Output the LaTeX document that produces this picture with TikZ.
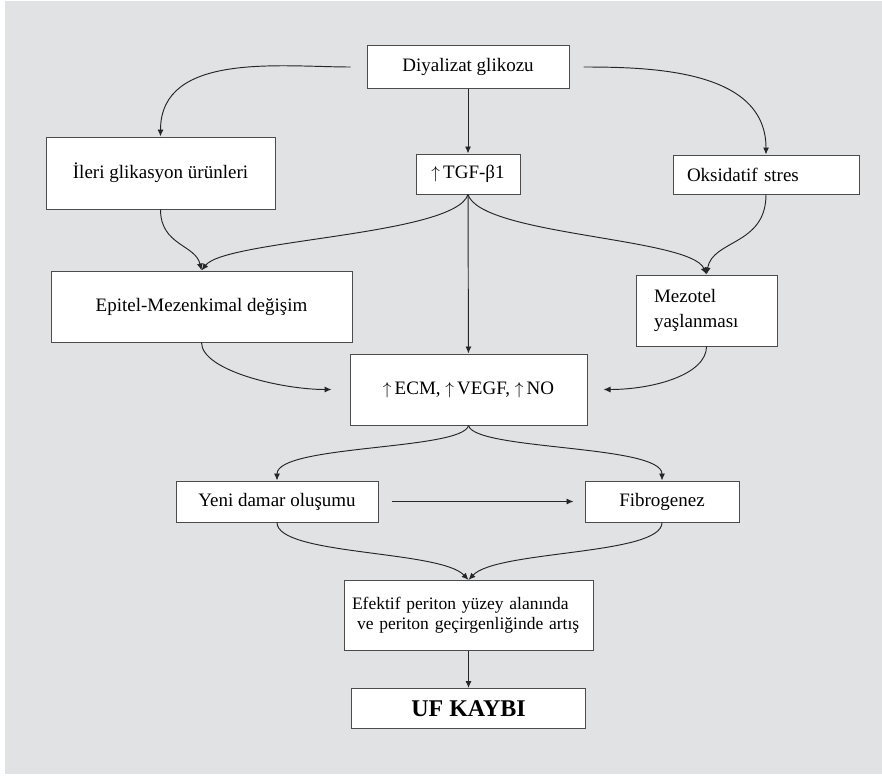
\documentclass[tikz,border=0pt]{standalone}
\usepackage{fontspec}
\setmainfont{Liberation Serif}
\usepackage{tikz}
\usetikzlibrary{arrows.meta}

\definecolor{zemin}{RGB}{225,226,228}
\newcommand{\artis}{$\uparrow$}
\tikzset{
  >={Latex[length=7pt,width=6pt]},
  kutu/.style={draw=black!70, line width=1pt, fill=white, inner sep=0pt,
    font=\fontsize{19}{25}\selectfont},
  ok/.style={->, draw=black!85, line width=0.95pt}
}

\begin{document}
\begin{tikzpicture}[x=1pt,y=-1pt]
    \useasboundingbox (0,0) rectangle (882,776);
    \fill[zemin] (5,1) rectangle (882,774);

    % boxes, at pixel positions of the figure (y goes down)
    \node[kutu, minimum width=202pt, minimum height=42pt] (glikoz) at (468,67) {Diyalizat glikozu};
    \node[kutu, minimum width=229pt, minimum height=72pt] (ileri) at (160.5,173) {İleri glikasyon ürünleri};
    \node[kutu, minimum width=104pt, minimum height=40pt] (tgf) at (468,174) {\artis\,TGF-β1};
    \node[kutu, minimum width=186pt, minimum height=39pt, text width=158pt, align=left] (oksi) at (766,174.5) {Oksidatif stres};
    \node[kutu, minimum width=301pt, minimum height=71pt] (emt) at (201.5,306.5) {Epitel-Mezenkimal değişim};
    \node[kutu, minimum width=141pt, minimum height=71pt, text width=105pt, align=left] (mezotel) at (706.5,310.5) {Mezotel\\yaşlanması};
    \node[kutu, minimum width=237pt, minimum height=71pt] (ecm) at (468.5,389.5) {\artis\,ECM, \artis\,VEGF, \artis\,NO};
    \node[kutu, minimum width=202pt, minimum height=41pt] (yeni) at (277,501.5) {Yeni damar oluşumu};
    \node[kutu, minimum width=154pt, minimum height=41pt] (fibro) at (662,501.5) {Fibrogenez};
    \node[kutu, minimum width=249pt, minimum height=70pt, text width=233pt, align=left,
      font=\fontsize{17.5}{20}\selectfont] (efektif) at (468.5,615.5)
      {Efektif periton yüzey alanında\\\hspace*{5pt}ve periton geçirgenliğinde artış};
    \node[kutu, minimum width=234pt, minimum height=40pt, font=\fontsize{24}{28}\selectfont\bfseries] (uf) at (468.5,708.5) {UF KAYBI};

    % glucose splits in three
    \draw[ok, shorten <=16pt] (glikoz.west) to[out=180, in=90] (ileri.north);
    \draw[ok, shorten <=14pt] (glikoz.east) to[out=0, in=90] (oksi.north);
    \draw[ok] (glikoz) -- (tgf);

    % second row into EMT and mesothelium
    \draw[ok] (ileri.south) .. controls +(0,36) and +(-6,-26) .. (emt.north);
    \draw[ok] (tgf.south) .. controls +(-13,41) and +(24,-31) .. (emt.north);
    \draw[ok] (tgf.south) .. controls +(13,41) and +(-16,-37) .. (mezotel.north);
    \draw[ok] (oksi.south) .. controls +(0,51) and +(6,-35) .. (mezotel.north);
    \draw[ok] (tgf) -- (ecm);

    \draw[ok] (emt.south) .. controls +(0,28) and +(-50,0) .. ([xshift=-18pt]ecm.west);
    \draw[ok] (mezotel.south) .. controls +(0,28) and +(50,0) .. ([xshift=16pt]ecm.east);

    \draw[ok] (ecm.south) .. controls +(-6,25) and +(0,-36) .. (yeni.north);
    \draw[ok] (ecm.south) .. controls +(6,25) and +(0,-36) .. (fibro.north);
    \draw[ok, shorten <=13pt, shorten >=11pt] (yeni) -- (fibro);

    \draw[ok] (yeni.south) .. controls +(0,33) and +(-28,-30) .. (efektif.north);
    \draw[ok] (fibro.south) .. controls +(0,33) and +(28,-30) .. (efektif.north);
    \draw[ok] (efektif) -- (uf);
\end{tikzpicture}
\end{document}
